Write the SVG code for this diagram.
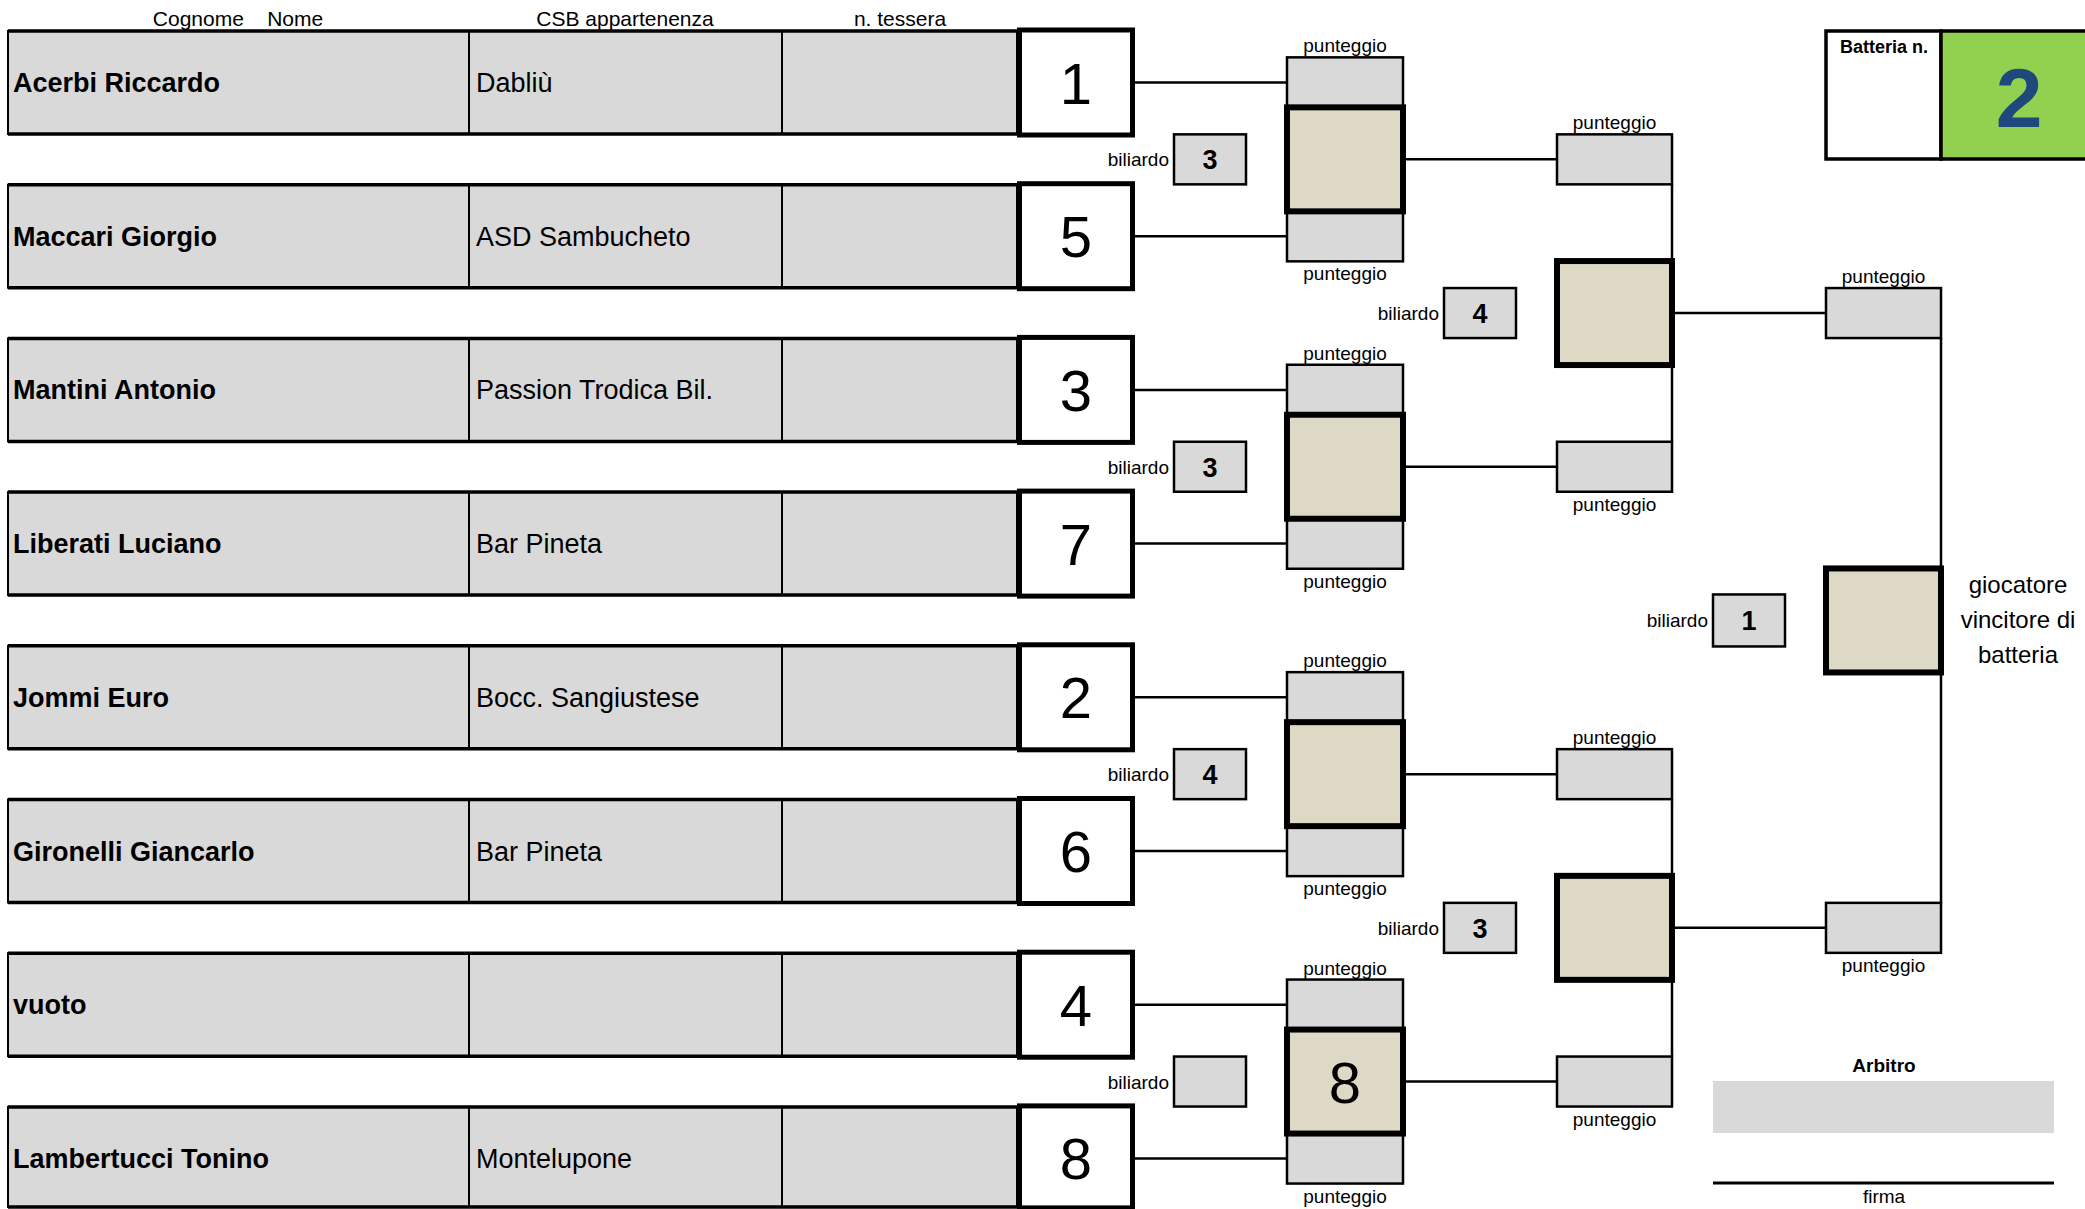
<svg xmlns="http://www.w3.org/2000/svg" width="2085" height="1209" viewBox="0 0 2085 1209">
<style>
text{font-family:"Liberation Sans",Arial,sans-serif;fill:#000}
.cell{fill:#d9d9d9;stroke:#000;stroke-width:2}
.edge{stroke:#000;stroke-width:3.5}
.sep{stroke:#000;stroke-width:2}
.num{fill:#fff;stroke:#000;stroke-width:5}
.sm{fill:#d9d9d9;stroke:#000;stroke-width:2.5}
.big{fill:#ddd9c4;stroke:#000;stroke-width:6}
.ln{stroke:#000;stroke-width:2.5;fill:none}
.hdr{font-size:21px;text-anchor:middle;white-space:pre}
.name{font-size:27px;font-weight:bold}
.club{font-size:27px}
.seed{font-size:58px;text-anchor:middle}
.pt{font-size:19px;text-anchor:middle}
.bl{font-size:19px;text-anchor:end}
.bn{font-size:27px;font-weight:bold;text-anchor:middle}
.win{font-size:24px;text-anchor:middle}
</style>

<g id="headers">
<text class="hdr" x="238" y="26">Cognome    Nome</text>
<text class="hdr" x="625" y="26">CSB appartenenza</text>
<text class="hdr" x="900" y="26">n. tessera</text>
</g>

<g id="connectors">
<line class="ln" x1="1134" y1="82.5" x2="1287" y2="82.5"/>
<line class="ln" x1="1134" y1="236.2" x2="1287" y2="236.2"/>
<line class="ln" x1="1134" y1="389.9" x2="1287" y2="389.9"/>
<line class="ln" x1="1134" y1="543.6" x2="1287" y2="543.6"/>
<line class="ln" x1="1134" y1="697.3" x2="1287" y2="697.3"/>
<line class="ln" x1="1134" y1="851" x2="1287" y2="851"/>
<line class="ln" x1="1134" y1="1004.7" x2="1287" y2="1004.7"/>
<line class="ln" x1="1134" y1="1158.4" x2="1287" y2="1158.4"/>
<line class="ln" x1="1403" y1="159.35" x2="1557" y2="159.35"/>
<line class="ln" x1="1403" y1="466.75" x2="1557" y2="466.75"/>
<line class="ln" x1="1403" y1="774.15" x2="1557" y2="774.15"/>
<line class="ln" x1="1403" y1="1081.55" x2="1557" y2="1081.55"/>
<line class="ln" x1="1672" y1="184.35" x2="1672" y2="261.05"/>
<line class="ln" x1="1672" y1="365.05" x2="1672" y2="441.75"/>
<line class="ln" x1="1672" y1="799.15" x2="1672" y2="875.85"/>
<line class="ln" x1="1672" y1="979.85" x2="1672" y2="1056.55"/>
<line class="ln" x1="1672" y1="313.05" x2="1826" y2="313.05"/>
<line class="ln" x1="1672" y1="927.85" x2="1826" y2="927.85"/>
<line class="ln" x1="1941" y1="338.05" x2="1941" y2="568.45"/>
<line class="ln" x1="1941" y1="672.45" x2="1941" y2="902.85"/>
</g>

<g id="row1">
<rect class="cell" x="8" y="31" width="1009" height="103"/>
<line class="edge" x1="8" y1="31" x2="1017" y2="31"/><line class="edge" x1="8" y1="134" x2="1017" y2="134"/>
<line class="sep" x1="469" y1="31" x2="469" y2="134"/><line class="sep" x1="782" y1="31" x2="782" y2="134"/>
<rect class="num" x="1019.5" y="30" width="113" height="105"/>
<text class="name" x="13" y="92">Acerbi Riccardo</text>
<text class="club" x="476" y="92">Dabliù</text>
<text class="seed" x="1076" y="103.5">1</text>
</g>
<g id="row2">
<rect class="cell" x="8" y="184.7" width="1009" height="103"/>
<line class="edge" x1="8" y1="184.7" x2="1017" y2="184.7"/><line class="edge" x1="8" y1="287.7" x2="1017" y2="287.7"/>
<line class="sep" x1="469" y1="184.7" x2="469" y2="287.7"/><line class="sep" x1="782" y1="184.7" x2="782" y2="287.7"/>
<rect class="num" x="1019.5" y="183.7" width="113" height="105"/>
<text class="name" x="13" y="245.7">Maccari Giorgio</text>
<text class="club" x="476" y="245.7">ASD Sambucheto</text>
<text class="seed" x="1076" y="257.2">5</text>
</g>
<g id="row3">
<rect class="cell" x="8" y="338.4" width="1009" height="103"/>
<line class="edge" x1="8" y1="338.4" x2="1017" y2="338.4"/><line class="edge" x1="8" y1="441.4" x2="1017" y2="441.4"/>
<line class="sep" x1="469" y1="338.4" x2="469" y2="441.4"/><line class="sep" x1="782" y1="338.4" x2="782" y2="441.4"/>
<rect class="num" x="1019.5" y="337.4" width="113" height="105"/>
<text class="name" x="13" y="399.4">Mantini Antonio</text>
<text class="club" x="476" y="399.4">Passion Trodica Bil.</text>
<text class="seed" x="1076" y="410.9">3</text>
</g>
<g id="row4">
<rect class="cell" x="8" y="492.1" width="1009" height="103"/>
<line class="edge" x1="8" y1="492.1" x2="1017" y2="492.1"/><line class="edge" x1="8" y1="595.1" x2="1017" y2="595.1"/>
<line class="sep" x1="469" y1="492.1" x2="469" y2="595.1"/><line class="sep" x1="782" y1="492.1" x2="782" y2="595.1"/>
<rect class="num" x="1019.5" y="491.1" width="113" height="105"/>
<text class="name" x="13" y="553.1">Liberati Luciano</text>
<text class="club" x="476" y="553.1">Bar Pineta</text>
<text class="seed" x="1076" y="564.6">7</text>
</g>
<g id="row5">
<rect class="cell" x="8" y="645.8" width="1009" height="103"/>
<line class="edge" x1="8" y1="645.8" x2="1017" y2="645.8"/><line class="edge" x1="8" y1="748.8" x2="1017" y2="748.8"/>
<line class="sep" x1="469" y1="645.8" x2="469" y2="748.8"/><line class="sep" x1="782" y1="645.8" x2="782" y2="748.8"/>
<rect class="num" x="1019.5" y="644.8" width="113" height="105"/>
<text class="name" x="13" y="706.8">Jommi Euro</text>
<text class="club" x="476" y="706.8">Bocc. Sangiustese</text>
<text class="seed" x="1076" y="718.3">2</text>
</g>
<g id="row6">
<rect class="cell" x="8" y="799.5" width="1009" height="103"/>
<line class="edge" x1="8" y1="799.5" x2="1017" y2="799.5"/><line class="edge" x1="8" y1="902.5" x2="1017" y2="902.5"/>
<line class="sep" x1="469" y1="799.5" x2="469" y2="902.5"/><line class="sep" x1="782" y1="799.5" x2="782" y2="902.5"/>
<rect class="num" x="1019.5" y="798.5" width="113" height="105"/>
<text class="name" x="13" y="860.5">Gironelli Giancarlo</text>
<text class="club" x="476" y="860.5">Bar Pineta</text>
<text class="seed" x="1076" y="872">6</text>
</g>
<g id="row7">
<rect class="cell" x="8" y="953.2" width="1009" height="103"/>
<line class="edge" x1="8" y1="953.2" x2="1017" y2="953.2"/><line class="edge" x1="8" y1="1056.2" x2="1017" y2="1056.2"/>
<line class="sep" x1="469" y1="953.2" x2="469" y2="1056.2"/><line class="sep" x1="782" y1="953.2" x2="782" y2="1056.2"/>
<rect class="num" x="1019.5" y="952.2" width="113" height="105"/>
<text class="name" x="13" y="1014.2">vuoto</text>
<text class="seed" x="1076" y="1025.7">4</text>
</g>
<g id="row8">
<rect class="cell" x="8" y="1106.9" width="1009" height="100"/>
<line class="edge" x1="8" y1="1106.9" x2="1017" y2="1106.9"/><line class="edge" x1="8" y1="1207" x2="1017" y2="1207"/>
<line class="sep" x1="469" y1="1106.9" x2="469" y2="1207"/><line class="sep" x1="782" y1="1106.9" x2="782" y2="1207"/>
<rect class="num" x="1019.5" y="1105.9" width="113" height="102"/>
<text class="name" x="13" y="1167.9">Lambertucci Tonino</text>
<text class="club" x="476" y="1167.9">Montelupone</text>
<text class="seed" x="1076" y="1179.4">8</text>
</g>

<g id="match1">
<rect class="sm" x="1287" y="57.35" width="116" height="50"/>
<rect class="sm" x="1287" y="211.35" width="116" height="50"/>
<rect class="big" x="1287" y="107.35" width="116" height="104"/>
<text class="pt" x="1345" y="52.35">punteggio</text>
<text class="pt" x="1345" y="280.35">punteggio</text>
<rect class="sm" x="1174" y="134.35" width="72" height="50"/>
<text class="bn" x="1210" y="169.35">3</text>
<text class="bl" x="1169" y="166.35">biliardo</text>
</g>
<g id="match2">
<rect class="sm" x="1287" y="364.75" width="116" height="50"/>
<rect class="sm" x="1287" y="518.75" width="116" height="50"/>
<rect class="big" x="1287" y="414.75" width="116" height="104"/>
<text class="pt" x="1345" y="359.75">punteggio</text>
<text class="pt" x="1345" y="587.75">punteggio</text>
<rect class="sm" x="1174" y="441.75" width="72" height="50"/>
<text class="bn" x="1210" y="476.75">3</text>
<text class="bl" x="1169" y="473.75">biliardo</text>
</g>
<g id="match3">
<rect class="sm" x="1287" y="672.15" width="116" height="50"/>
<rect class="sm" x="1287" y="826.15" width="116" height="50"/>
<rect class="big" x="1287" y="722.15" width="116" height="104"/>
<text class="pt" x="1345" y="667.15">punteggio</text>
<text class="pt" x="1345" y="895.15">punteggio</text>
<rect class="sm" x="1174" y="749.15" width="72" height="50"/>
<text class="bn" x="1210" y="784.15">4</text>
<text class="bl" x="1169" y="781.15">biliardo</text>
</g>
<g id="match4">
<rect class="sm" x="1287" y="979.55" width="116" height="50"/>
<rect class="sm" x="1287" y="1133.55" width="116" height="50"/>
<rect class="big" x="1287" y="1029.55" width="116" height="104"/>
<text class="seed" x="1345" y="1102.55">8</text>
<text class="pt" x="1345" y="974.55">punteggio</text>
<text class="pt" x="1345" y="1202.55">punteggio</text>
<rect class="sm" x="1174" y="1056.55" width="72" height="50"/>
<text class="bl" x="1169" y="1088.55">biliardo</text>
</g>

<g id="semi1">
<rect class="sm" x="1557" y="134.35" width="115" height="50"/>
<rect class="sm" x="1557" y="441.75" width="115" height="50"/>
<rect class="big" x="1557" y="261.05" width="115" height="104"/>
<text class="pt" x="1614.5" y="129.35">punteggio</text>
<text class="pt" x="1614.5" y="510.75">punteggio</text>
<rect class="sm" x="1444" y="288.05" width="72" height="50"/>
<text class="bn" x="1480" y="323.05">4</text>
<text class="bl" x="1439" y="320.05">biliardo</text>
</g>
<g id="semi2">
<rect class="sm" x="1557" y="749.15" width="115" height="50"/>
<rect class="sm" x="1557" y="1056.55" width="115" height="50"/>
<rect class="big" x="1557" y="875.85" width="115" height="104"/>
<text class="pt" x="1614.5" y="744.15">punteggio</text>
<text class="pt" x="1614.5" y="1125.55">punteggio</text>
<rect class="sm" x="1444" y="902.85" width="72" height="50"/>
<text class="bn" x="1480" y="937.85">3</text>
<text class="bl" x="1439" y="934.85">biliardo</text>
</g>

<g id="final">
<rect class="sm" x="1826" y="288.05" width="115" height="50"/>
<rect class="sm" x="1826" y="902.85" width="115" height="50"/>
<rect class="big" x="1826" y="568.45" width="115" height="104"/>
<text class="pt" x="1883.5" y="283.05">punteggio</text>
<text class="pt" x="1883.5" y="971.85">punteggio</text>
<rect class="sm" x="1713" y="594.45" width="72" height="52"/>
<text class="bn" x="1749" y="630.45">1</text>
<text class="bl" x="1708" y="627.45">biliardo</text>
<text class="win" x="2018" y="593">giocatore</text>
<text class="win" x="2018" y="628">vincitore di</text>
<text class="win" x="2018" y="663">batteria</text>
</g>

<g id="batteria">
<rect x="1826" y="31" width="115" height="128" fill="#fff" stroke="#000" stroke-width="3.5"/>
<rect x="1941" y="31" width="150" height="128" fill="#92d050" stroke="#000" stroke-width="3.5"/>
<text x="1884" y="53" font-size="18" font-weight="bold" text-anchor="middle">Batteria n.</text>
<text x="2019" y="127" font-size="84" font-weight="bold" text-anchor="middle" style="fill:#1f497d">2</text>
</g>

<g id="arbitro">
<text x="1884" y="1072" font-size="19" font-weight="bold" text-anchor="middle">Arbitro</text>
<rect x="1713" y="1081" width="341" height="52" fill="#d9d9d9"/>
<line x1="1713" y1="1183" x2="2054" y2="1183" stroke="#000" stroke-width="3"/>
<text x="1884" y="1203" font-size="19" text-anchor="middle">firma</text>
</g>
</svg>
